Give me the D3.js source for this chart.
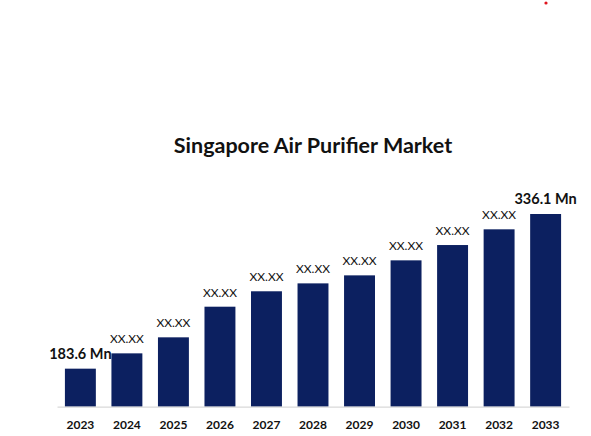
<!DOCTYPE html>
<html>
<head>
<meta charset="utf-8">
<script src="https://cdn.jsdelivr.net/npm/d3@7"></script>
<style>
  body { margin: 0; background: #fff; }
  svg { display: block; }
</style>
</head>
<body>
<div id="canvas"></div>
<script>
// data
const years = ["2023", "2024", "2025", "2026", "2027", "2028", "2029", "2030", "2031", "2032", "2033"];
const values = [183.6, 198.7, 214.5, 244.7, 259.9, 267.7, 275.6, 290.4, 305.5, 321.0, 336.1];
const labels = ["183.6 Mn", "XX.XX", "XX.XX", "XX.XX", "XX.XX", "XX.XX", "XX.XX", "XX.XX", "XX.XX", "XX.XX", "336.1 Mn"];

const data = years.map((y, i) => ({ year: y, value: values[i], label: labels[i] }));

const width = 591;
const height = 436;
const margin = { top: 214, left: 57, bottom: 29.3, right: 22 };
const innerWidth = width - margin.left - margin.right;
const innerHeight = height - margin.top - margin.bottom;
const font = "Lato, 'Open Sans', sans-serif";

const svg = d3.select("#canvas").append("svg")
  .attr("width", width)
  .attr("height", height);

// small red dot in the top right corner
svg.append("circle")
  .attr("cx", 546).attr("cy", 3).attr("r", 1.6)
  .attr("fill", "#e0141e");

svg.append("text")
  .attr("x", 313).attr("y", 153)
  .attr("text-anchor", "middle")
  .style("font-family", font)
  .style("font-weight", "bold")
  .style("font-size", "21.5px")
  .attr("fill", "#111")
  .text("Singapore Air Purifier Market");

const x = d3.scaleBand()
  .domain(years)
  .range([0, innerWidth])
  .paddingInner(0.335)
  .paddingOuter(0.17);

// axis does not start at zero in the original
const y = d3.scaleLinear()
  .domain([146.1, 336.1])
  .range([innerHeight, 0]);

const g = svg.append("g").attr("transform", `translate(${margin.left},${margin.top})`);

g.selectAll("rect").data(data)
  .enter().append("rect")
  .attr("x", d => x(d.year))
  .attr("y", d => y(d.value))
  .attr("width", x.bandwidth())
  .attr("height", d => innerHeight - y(d.value))
  .style("fill", "#0c2060");

g.selectAll(".lbl").data(data)
  .enter().append("text")
  .attr("class", "lbl")
  .attr("x", d => x(d.year) + x.bandwidth() / 2)
  .attr("y", d => y(d.value) - 10)
  .attr("text-anchor", "middle")
  .style("font-family", font)
  .style("font-weight", d => d.label === "XX.XX" ? "normal" : "bold")
  .style("font-size", d => d.label === "XX.XX" ? "12px" : "14.5px")
  .attr("fill", "#111")
  .text(d => d.label);

const xAxis = g.append("g")
  .attr("class", "x--axis")
  .attr("transform", `translate(0, ${innerHeight})`)
  .call(d3.axisBottom(x).tickSize(0).tickPadding(14).tickSizeOuter(0));

xAxis.select(".domain").attr("stroke", "#d9d9d9").attr("stroke-width", 1.2);
xAxis.selectAll("text")
  .style("font-family", font)
  .style("font-weight", "bold")
  .style("font-size", "12px")
  .attr("fill", "#111");
</script>
</body>
</html>
